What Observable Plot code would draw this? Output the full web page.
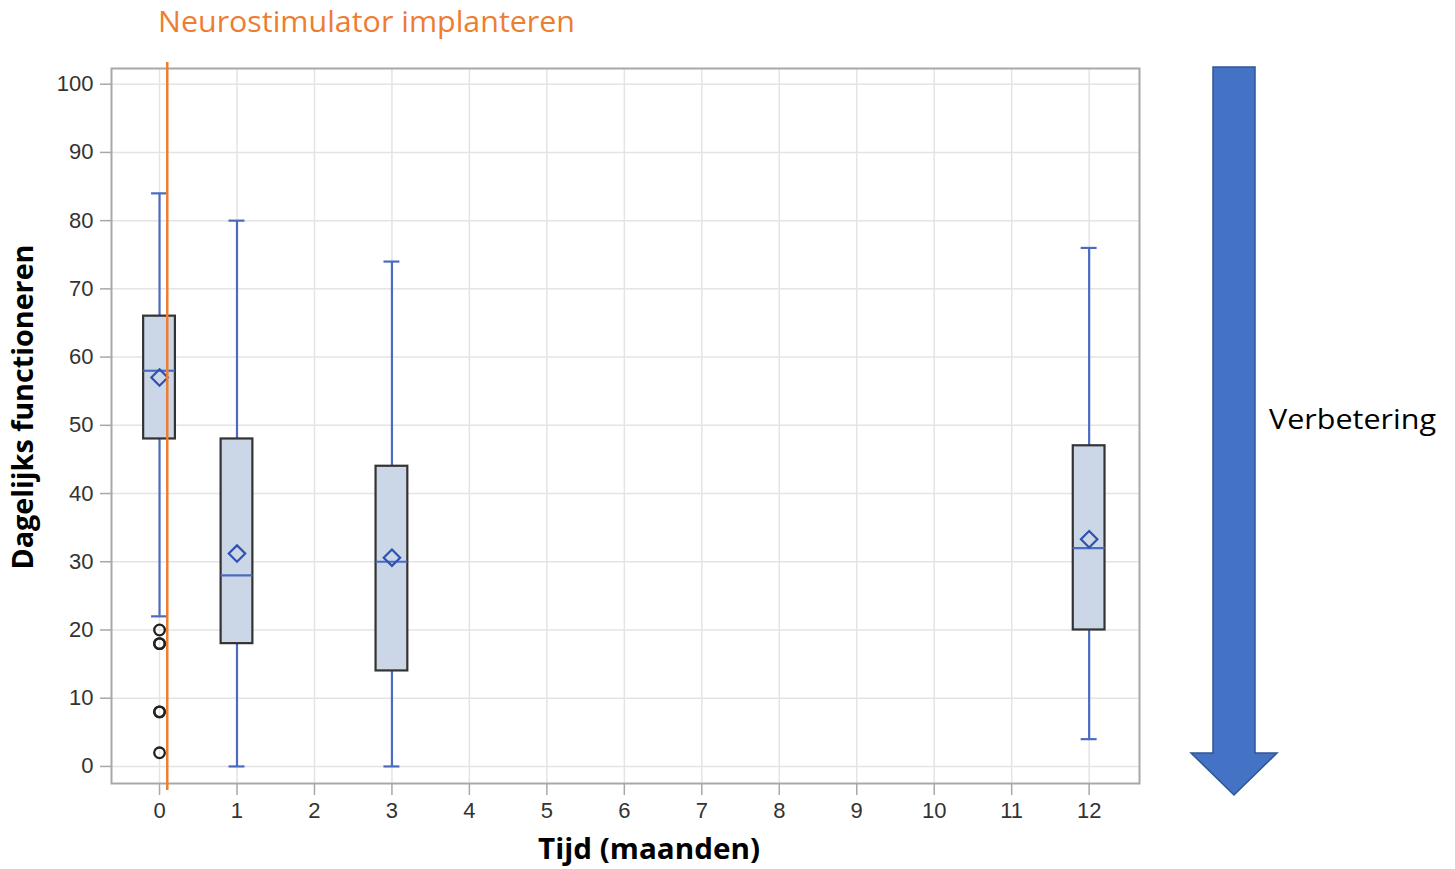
<!DOCTYPE html>
<html>
<head>
<meta charset="utf-8">
<script src="https://cdn.jsdelivr.net/npm/d3@7"></script>
<script src="https://cdn.jsdelivr.net/npm/@observablehq/plot@0.6"></script>
<style>
  html, body { margin: 0; padding: 0; background: #fff; }
  #wrap { position: relative; width: 1455px; height: 869px; overflow: hidden; }
  #overlay { position: absolute; left: 0; top: 0; pointer-events: none; }
</style>
</head>
<body>
<div id="wrap">
  <div id="chart"></div>
  <svg id="overlay" width="1455" height="869" viewBox="0 0 1455 869">
    <text x="158" y="32" font-family="Open Sans" font-size="30" fill="#ed7d31" textLength="417" lengthAdjust="spacingAndGlyphs">Neurostimulator implanteren</text>
    <text transform="translate(33,407) rotate(-90)" text-anchor="middle" font-family="Open Sans" font-weight="bold" font-size="28" fill="#000" textLength="325" lengthAdjust="spacingAndGlyphs">Dagelijks functioneren</text>
    <text x="649" y="859" text-anchor="middle" font-family="Open Sans" font-weight="bold" font-size="28" fill="#000" textLength="222" lengthAdjust="spacingAndGlyphs">Tijd (maanden)</text>
    <text x="1269" y="429" font-family="Open Sans" font-size="28" fill="#000" textLength="167" lengthAdjust="spacingAndGlyphs">Verbetering</text>
    <polygon points="1213,67 1255,67 1255,753 1277,753 1234,795 1191,753 1213,753" fill="#4472c4" stroke="#2f5597" stroke-width="1.5"/>
  </svg>
</div>
<script>
// ---- data ----
const months       = [0, 1, 3, 12];
const whiskerLow   = [22, 0, 0, 4];
const q1           = [48, 18, 14, 20];
const medians      = [58, 28, 30, 32];
const q3           = [66, 48, 44, 47];
const whiskerHigh  = [84, 80, 74, 76];
const means        = [57, 31.2, 30.6, 33.3];
const outlierMonth  = [0, 0, 0, 0, 0, 0];
const outlierValues = [20, 18, 18, 8, 8, 2];
const xTicks = [0, 1, 2, 3, 4, 5, 6, 7, 8, 9, 10, 11, 12];
const yTicks = [0, 10, 20, 30, 40, 50, 60, 70, 80, 90, 100];
const implantMonth = [0.1];

const boxes = months.map((m, i) => ({
  month: m, low: whiskerLow[i], q1: q1[i], median: medians[i],
  q3: q3[i], high: whiskerHigh[i], mean: means[i]
}));
const outliers = outlierMonth.map((m, i) => ({month: m, value: outlierValues[i]}));

const halfBox = 0.205, halfCap = 0.103;
const blue = "#4a6cc0";

const chart = Plot.plot({
  width: 1455, height: 869,
  marginLeft: 111, marginRight: 316, marginTop: 68, marginBottom: 86,
  x: {domain: [-0.62, 12.65], label: null},
  y: {domain: [-2.5, 102.3], label: null},
  style: {fontFamily: "Liberation Sans, Arial, sans-serif", fontSize: "22px", background: "#fff", color: "#333"},
  marks: [
    Plot.gridX(xTicks, {stroke: "#e4e4e4", strokeOpacity: 1, strokeWidth: 1.5}),
    Plot.gridY(yTicks, {stroke: "#e4e4e4", strokeOpacity: 1, strokeWidth: 1.5}),
    Plot.frame({stroke: "#a8a8a8", strokeWidth: 2}),
    Plot.axisX(xTicks, {tickSize: 12, tickPadding: 7, stroke: "#a8a8a8", fill: "#333", strokeWidth: 1.5, fontSize: 22, tickFormat: d => String(d), label: null}),
    Plot.axisY(yTicks, {tickSize: 11, tickPadding: 7, stroke: "#a8a8a8", fill: "#333", strokeWidth: 1.5, fontSize: 22, tickFormat: d => String(d), label: null}),
    // whiskers
    Plot.ruleX(boxes, {x: "month", y1: "low", y2: "q1", stroke: blue, strokeWidth: 2.2}),
    Plot.ruleX(boxes, {x: "month", y1: "q3", y2: "high", stroke: blue, strokeWidth: 2.2}),
    // caps
    Plot.ruleY(boxes, {y: "low", x1: d => d.month - halfCap, x2: d => d.month + halfCap, stroke: blue, strokeWidth: 2.2}),
    Plot.ruleY(boxes, {y: "high", x1: d => d.month - halfCap, x2: d => d.month + halfCap, stroke: blue, strokeWidth: 2.2}),
    // boxes
    Plot.rect(boxes, {x1: d => d.month - halfBox, x2: d => d.month + halfBox, y1: "q1", y2: "q3", fill: "#cbd6e6", stroke: "#333", strokeWidth: 2.2}),
    // medians
    Plot.ruleY(boxes, {y: "median", x1: d => d.month - halfBox, x2: d => d.month + halfBox, stroke: blue, strokeWidth: 2.2}),
    // means
    Plot.dot(boxes, {x: "month", y: "mean", symbol: "diamond2", r: 7.4, stroke: "#2d52b4", strokeWidth: 2.2, fill: "none"}),
    // outliers
    Plot.dot(outliers, {x: "month", y: "value", r: 5.3, stroke: "#222", strokeWidth: 2.3, fill: "none"}),
    // implant moment
    Plot.ruleX(implantMonth, {x: d => d, stroke: "#ed7d31", strokeWidth: 2.5, insetTop: -6, insetBottom: -7})
  ]
});
document.getElementById("chart").appendChild(chart);
</script>
</body>
</html>
